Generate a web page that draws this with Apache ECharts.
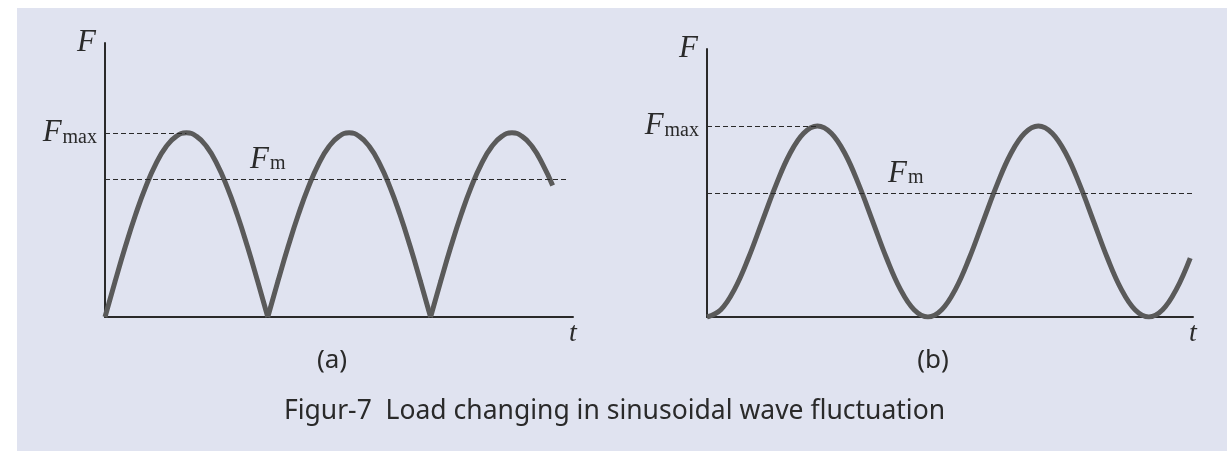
<!DOCTYPE html>
<html>
<head>
<meta charset="UTF-8">
<title>Load changing in sinusoidal wave fluctuation</title>
<script src="https://cdn.jsdelivr.net/npm/echarts@6/dist/echarts.min.js"></script>
<style>
  html, body { margin: 0; padding: 0; background: #fff; }
</style>
</head>
<body>
<div id="main" style="width:1229px;height:451px;"></div>
<script type="text/javascript">
// (a) rectified sine: time samples and load values
var tA = [0, 0.5, 1, 1.5, 2, 2.5, 3, 3.5, 4, 4.5, 5, 5.5, 6, 6.5, 7, 7.5,
          8, 8.5, 9, 9.5, 10, 10.5, 11, 11.5, 12, 12.5, 13, 13.5, 14, 14.5, 15, 15.5,
          16, 16.5, 17, 17.5, 18, 18.5, 19, 19.5, 20, 20.5, 21, 21.5, 22];
var fA = [0, 13.1, 25.7, 37.3, 47.5, 55.9, 62.1, 65.9, 67.2, 65.9, 62.1, 55.9, 47.5, 37.3, 25.7, 13.1,
          0, 13.1, 25.7, 37.3, 47.5, 55.9, 62.1, 65.9, 67.2, 65.9, 62.1, 55.9, 47.5, 37.3, 25.7, 13.1,
          0, 13.1, 25.7, 37.3, 47.5, 55.9, 62.1, 65.9, 67.2, 65.9, 62.1, 55.9, 48];
var cuspsA = [0, 16, 32, 44];   // sample indices where the arches meet
var fMaxA = 67.2, fmA = 50.4;

// (b) sine around a mean
var tB = [0, 1, 2, 3, 4, 5, 6, 7, 8, 9, 10, 11, 12, 13, 14, 15,
          16, 17, 18, 19, 20, 21, 22, 23, 24, 25, 26, 27, 28, 29, 30, 31,
          32, 33, 34, 35];
var fB = [0, 2.7, 10.4, 22.0, 35.7, 49.3, 60.9, 68.6, 71.3, 68.6, 60.9, 49.3, 35.7, 22.0, 10.4, 2.7,
          0, 2.7, 10.4, 22.0, 35.7, 49.3, 60.9, 68.6, 71.3, 68.6, 60.9, 49.3, 35.7, 22.0, 10.4, 2.7,
          0, 2.7, 10.4, 22.0];
var fMaxB = 71.3, fmB = 46.3;

var captions = ['(a)', '(b)'];
var figTitle = 'Figur-7  Load changing in sinusoidal wave fluctuation';

function pairs(xs, ys) {
  return xs.map(function (x, i) { return [x, ys[i]]; });
}

var serif = '"Liberation Serif", "DejaVu Serif", serif';
var sans = '"Noto Sans", "Open Sans", sans-serif';
var ink = '#2a2a2a';
var rich = {
  i: { fontFamily: serif, fontStyle: 'italic', fontSize: 31, color: ink },
  s: { fontFamily: serif, fontSize: 20, color: ink, padding: [9, 0, 0, 1] }
};

function axisPair(idx, xmax) {
  return {
    x: {
      type: 'value', gridIndex: idx, min: 0, max: xmax,
      axisLine: { lineStyle: { color: ink, width: 2 } },
      axisTick: { show: false }, axisLabel: { show: false }, splitLine: { show: false },
      name: 't', nameLocation: 'end', nameGap: 0,
      nameTextStyle: { fontFamily: serif, fontStyle: 'italic', fontSize: 28, color: ink,
                       align: 'center', verticalAlign: 'top', padding: [3, 0, 0, 0] }
    },
    y: {
      type: 'value', gridIndex: idx, min: 0, max: 100,
      axisLine: { show: true, lineStyle: { color: ink, width: 2 } },
      axisTick: { show: false }, axisLabel: { show: false }, splitLine: { show: false },
      name: 'F', nameLocation: 'end', nameGap: 0,
      nameTextStyle: { fontFamily: serif, fontStyle: 'italic', fontSize: 31, color: ink,
                       align: 'right', verticalAlign: 'middle', padding: [0, 9, 0, 0] }
    }
  };
}
var axA = axisPair(0, 23), axB = axisPair(1, 35.2);

function dashed(maxEnd, maxVal, mEnd, mVal) {
  return {
    symbol: 'none', silent: true,
    lineStyle: { type: [5, 3], color: ink, width: 1.2 },
    data: [
      [{ coord: [0, maxVal], label: { show: true, position: 'start', distance: 8,
           formatter: '{i|F}{s|max}', rich: rich } },
       { coord: [maxEnd, maxVal] }],
      [{ coord: [0, mVal], label: { show: false } }, { coord: [mEnd, mVal] }]
    ]
  };
}
function fmLabel(x, v) {
  return {
    symbol: 'circle', symbolSize: 0, silent: true,
    label: { show: true, position: 'top', distance: 4, formatter: '{i|F}{s|m}', rich: rich },
    data: [{ coord: [x, v] }]
  };
}

var curveStyle = { color: '#5a5a5a', width: 5 };
var capStyle = { fontFamily: sans, fontSize: 26, fontWeight: 'normal', color: ink };

// panel (a): one smooth series per arch so the cusps stay sharp
var seriesA = [];
var ptsA = pairs(tA, fA);
for (var k = 0; k < cuspsA.length - 1; k++) {
  var s = {
    type: 'line', xAxisIndex: 0, yAxisIndex: 0,
    data: ptsA.slice(cuspsA[k], cuspsA[k + 1] + 1),
    smooth: 0.5, showSymbol: false, lineStyle: curveStyle, z: 3
  };
  if (k === 0) {
    s.markLine = dashed(4, fMaxA, 22.8, fmA);
    s.markPoint = fmLabel(8, fmA);
  }
  seriesA.push(s);
}

var myChart = echarts.init(document.getElementById('main'));
var option = {
  backgroundColor: '#ffffff',
  animation: false,
  graphic: [{
    type: 'rect', z: -10, silent: true,
    shape: { x: 17, y: 8, width: 1210, height: 443 },
    style: { fill: '#e0e3f0' }
  }],
  title: [
    { text: captions[0], left: 327, top: 343, textAlign: 'center', textStyle: capStyle },
    { text: captions[1], left: 928, top: 343, textAlign: 'center', textStyle: capStyle },
    { text: figTitle, left: 'center', top: 393,
      textStyle: { fontFamily: sans, fontSize: 26.5, fontWeight: 'normal', color: '#2a2a2a' } }
  ],
  grid: [
    { left: 105, top: 43, width: 468, height: 274 },
    { left: 707, top: 49, width: 486, height: 268 }
  ],
  xAxis: [axA.x, axB.x],
  yAxis: [axA.y, axB.y],
  series: seriesA.concat([
    {
      type: 'line', xAxisIndex: 1, yAxisIndex: 1,
      data: pairs(tB, fB), smooth: 0.4, showSymbol: false,
      lineStyle: curveStyle, z: 3,
      markLine: dashed(8, fMaxB, 35.2, fmB),
      markPoint: fmLabel(14.4, fmB)
    }
  ])
};
myChart.setOption(option);
</script>
</body>
</html>
